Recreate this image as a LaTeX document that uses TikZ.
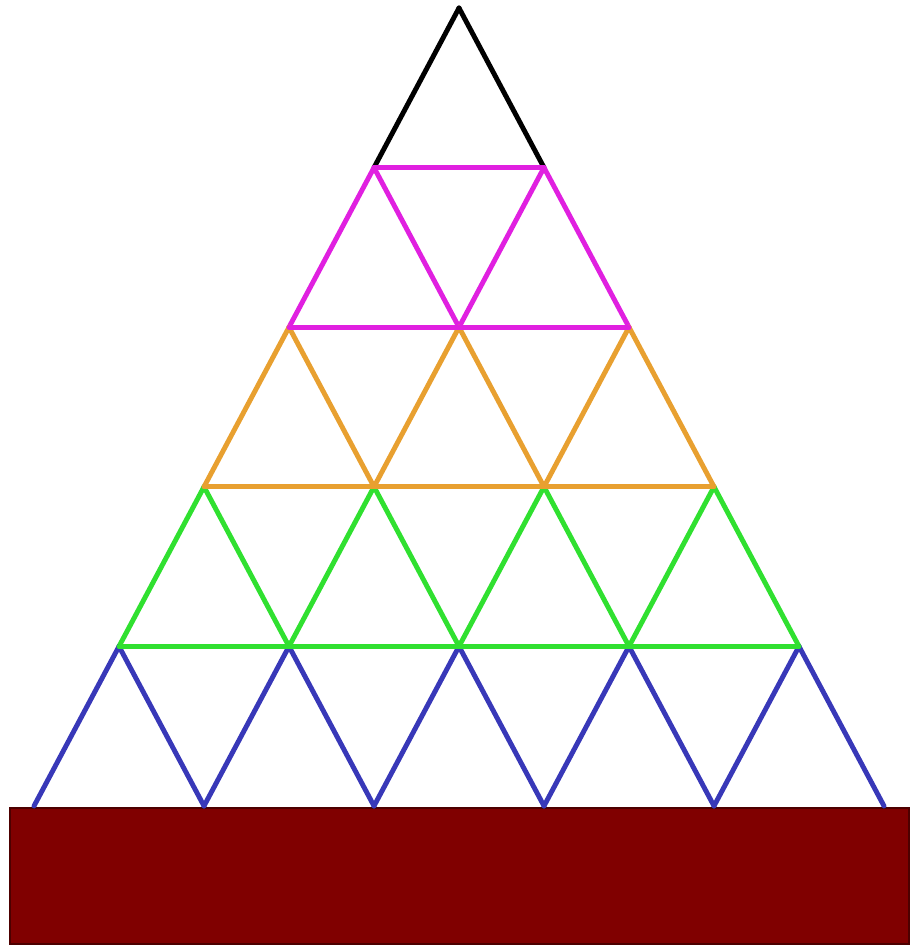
\documentclass[tikz,border=0pt]{standalone}
\usepackage{xcolor}
\usepackage{tikz}
\definecolor{magx}{HTML}{E020E0}
\definecolor{orgx}{HTML}{E8A030}
\definecolor{grnx}{HTML}{30E030}
\definecolor{blux}{HTML}{3838B8}
\definecolor{basex}{HTML}{800000}
\tikzset{
  ed/.style={line width=1.4pt,line cap=round,line join=round},
  bs/.style={draw=basex!60!black,fill=basex,line width=0.6pt}
}
\begin{document}
\begin{tikzpicture}[x=0.01cm,y=-0.01cm]
\useasboundingbox (0,0) rectangle (910,946);
\foreach \r in {0,...,5}{\foreach \k in {0,...,\r}{\coordinate (v\r-\k) at ({459+(2*\k-\r)*85},{8+\r*159.6});}}
\draw[bs] (10,808) rectangle (909,944);
\foreach \r/\c in {1/black,2/magx,3/orgx,4/grnx,5/blux}{
  \pgfmathtruncatemacro\p{\r-1}
  \foreach \k in {0,...,\p}{\pgfmathtruncatemacro\n{\k+1}
    \draw[ed,\c] (v\p-\k) -- (v\r-\k);
    \draw[ed,\c] (v\p-\k) -- (v\r-\n);}
}
\draw[ed,magx] (v1-0) -- (v1-1);
\foreach \r/\c in {2/magx,3/orgx,4/grnx}{\draw[ed,\c] (v\r-0) -- (v\r-\r);}
\end{tikzpicture}
\end{document}
